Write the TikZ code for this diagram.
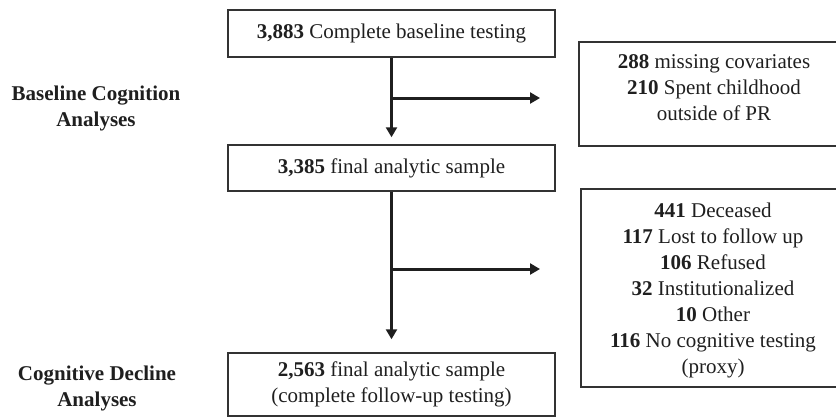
\documentclass[tikz,border=0pt]{standalone}
\usepackage{fontspec}
\setmainfont{Liberation Serif}
\usetikzlibrary{arrows.meta,calc}
\begin{document}
\begin{tikzpicture}[x=1pt,y=1pt,
  every node/.style={font=\fontsize{21}{26}\selectfont, text=black!88},
  boxline/.style={draw=black!80, line width=1.5pt},
  stagebox/.style={boxline, minimum width=327pt, align=center, inner sep=0pt},
  excltext/.style={align=center, inner sep=0pt},
  flow/.style={draw=black!88, line width=3pt},
  flowarrow/.style={flow, -{Triangle[width=11pt,length=10pt]}},
  phase/.style={font=\bfseries\fontsize{21}{26}\selectfont, align=center}]
\useasboundingbox (0,0) rectangle (836,-418);
\clip (0,0) rectangle (836,-418);

% main stages
\node[stagebox, minimum height=47pt] (base) at (391.5,-33.5) {\textbf{3,883} Complete baseline testing};
\node[stagebox, minimum height=46pt] (mid) at (391.5,-168) {\textbf{3,385} final analytic sample};
\node[stagebox, minimum height=63pt] (final) at (391.5,-384.5) {\textbf{2,563} final analytic sample\\(complete follow-up testing)};

% exclusion lists; their frames run on past the right edge
\node[excltext] (excl1) at (714,-88)
  {\textbf{288} missing covariates\\\textbf{210} Spent childhood\\outside of PR};
\draw[boxline] ($(excl1.center)+(170,46)$) -- ($(excl1.center)+(-135,46)$)
  -- ($(excl1.center)+(-135,-58)$) -- ($(excl1.center)+(170,-58)$);
\node[excltext] (excl2) at (713,-290)
  {\textbf{441} Deceased\\\textbf{117} Lost to follow up\\\textbf{106} Refused\\\textbf{32} Institutionalized\\\textbf{10} Other\\\textbf{116} No cognitive testing\\(proxy)};
\draw[boxline] ($(excl2.center)+(170,101)$) -- ($(excl2.center)+(-132,101)$)
  -- ($(excl2.center)+(-132,-97)$) -- ($(excl2.center)+(170,-97)$);

% phase labels
\node[phase] (phase1) at (96,-108) {Baseline Cognition\\Analyses};
\node[phase] (phase2) at (97,-388) {Cognitive Decline\\Analyses};

% flow connectors
\coordinate (out1) at (540,-98);
\coordinate (out2) at (540,-269);
\draw[flowarrow, shorten >=7pt] (base.south) -- (mid.north);
\draw[flowarrow] (base.south |- out1) -- (out1);
\draw[flowarrow, shorten >=13pt] (mid.south) -- (final.north);
\draw[flowarrow] (mid.south |- out2) -- (out2);
\end{tikzpicture}
\end{document}
